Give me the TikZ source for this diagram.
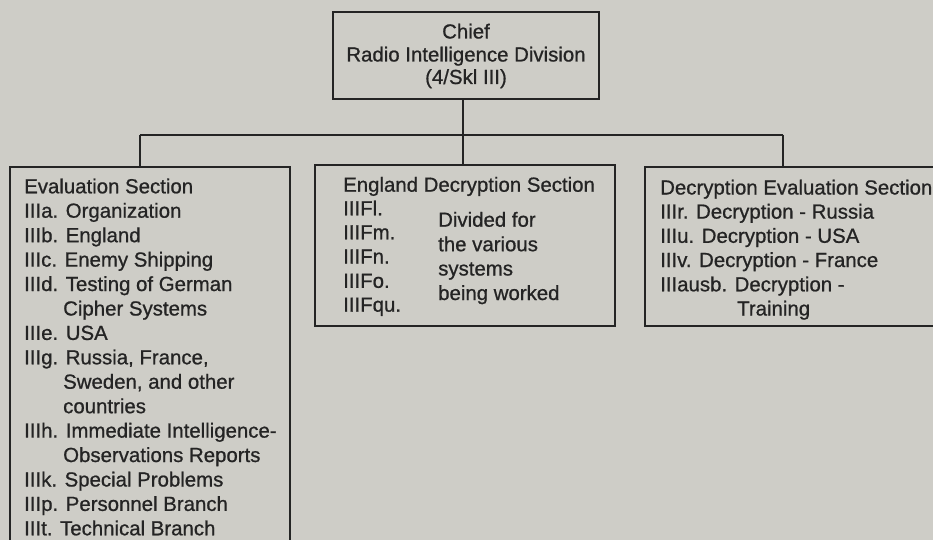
\documentclass[tikz,border=0pt]{standalone}
\usepackage{fontspec}
\setmainfont[FakeBold=0.8]{Liberation Sans}
\definecolor{paper}{RGB}{206,205,199}
\definecolor{ink}{RGB}{36,36,36}
\begin{document}
\begin{tikzpicture}[x=1pt,y=-1pt,
  box/.style={draw=ink,line width=1.6pt,fill=paper,shape=rectangle,inner sep=0pt},
  conn/.style={draw=ink,line width=1.8pt},
  txt/.style={anchor=base west,inner sep=0pt,text=ink,font=\fontsize{20.4}{24.4}\selectfont},
  ctxt/.style={anchor=base,inner sep=0pt,text=ink,font=\fontsize{20.4}{24.4}\selectfont}]
\useasboundingbox (0,0) rectangle (933,540);
\fill[paper] (0,0) rectangle (933,540);
\clip (0,0) rectangle (933,540);
% boxes
\node[box,minimum width=266pt,minimum height=87pt] (chief) at (466,55.5) {};
\node[box,minimum width=280pt,minimum height=393pt] (eval) at (150,363.5) {};
\node[box,minimum width=300pt,minimum height=161pt] (eng) at (465,245.5) {};
\node[box,minimum width=300pt,minimum height=159pt] (decev) at (795,246.5) {};
% connectors
\coordinate (hub) at (463,135);
\coordinate (bl) at (140,135);
\coordinate (br) at (783,135);
\draw[conn] (hub |- chief.south) -- (hub |- eng.north);
\draw[conn] (bl) -- (br);
\draw[conn] (bl) -- (bl |- eval.north);
\draw[conn] (br) -- (br |- decev.north);
% chief text
\node[ctxt] (c1) at (466,38.5) {Chief};
\node[ctxt] (c2) at (466,61.5) {Radio Intelligence Division};
\node[ctxt] (c3) at (466,84) {(4/Skl III)};
% evaluation section
\node[txt] (e0) at (24,193.3) {Evaluation Section};
\node[txt] (e1) at (24,217.7) {IIIa. Organization};
\node[txt] (e2) at (24,242.2) {IIIb. England};
\node[txt] (e3) at (24,266.6) {IIIc. Enemy Shipping};
\node[txt] (e4) at (24,291.0) {IIId. Testing of German};
\node[txt] (e5) at (63,315.5) {Cipher Systems};
\node[txt] (e6) at (24,339.9) {IIIe. USA};
\node[txt] (e7) at (24,364.3) {IIIg. Russia, France,};
\node[txt] (e8) at (63,388.7) {Sweden, and other};
\node[txt] (e9) at (63,413.2) {countries};
\node[txt] (e10) at (24,437.6) {IIIh. Immediate Intelligence-};
\node[txt] (e11) at (63,462.0) {Observations Reports};
\node[txt] (e12) at (24,486.5) {IIIk. Special Problems};
\node[txt] (e13) at (24,510.9) {IIIp. Personnel Branch};
\node[txt] (e14) at (24,535.3) {IIIt. Technical Branch};
% england decryption section
\node[txt] (g0) at (343,191.7) {England Decryption Section};
\node[txt] (g1) at (343,215.3) {IIIFl.};
\node[txt] (g2) at (343,239.3) {IIIFm.};
\node[txt] (g3) at (343,263.5) {IIIFn.};
\node[txt] (g4) at (343,287.8) {IIIFo.};
\node[txt] (g5) at (343,311.7) {IIIFqu.};
\node[txt] (d1) at (438,226.7) {Divided for};
\node[txt] (d2) at (438,251.2) {the various};
\node[txt] (d3) at (438,275.5) {systems};
\node[txt] (d4) at (438,300.0) {being worked};
% decryption evaluation section
\node[txt] (r0) at (660,194.5) {Decryption Evaluation Section};
\node[txt] (r1) at (660,218.6) {IIIr. Decryption - Russia};
\node[txt] (r2) at (660,242.8) {IIIu. Decryption - USA};
\node[txt] (r3) at (660,267.0) {IIIv. Decryption - France};
\node[txt] (r4) at (660,291.3) {IIIausb. Decryption -};
\node[txt] (r5) at (737,315.5) {Training};
\end{tikzpicture}
\end{document}
